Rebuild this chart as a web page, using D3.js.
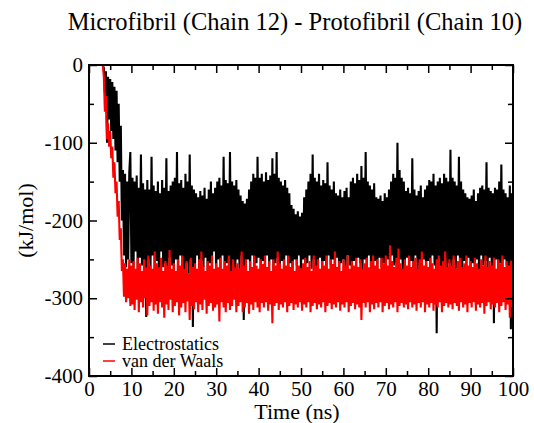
<!DOCTYPE html>
<html>
<head>
<meta charset="utf-8">
<script src="https://cdn.jsdelivr.net/npm/d3@7"></script>
<style>
  body { margin: 0; background: #fff; }
  svg text { font-family: "Liberation Serif", "Times New Roman", Times, "DejaVu Serif", serif; }
</style>
</head>
<body>
<div id="chart"></div>
<script>
// sampling step of both series (ns)
const dt = 0.25;

// Electrostatics (kJ/mol), one row = 5 ns
const elec = [
  0, 0, 0, 0, 0, 0, 0, 0, 0, 0, 0, 0, 0, 0, -4, -35, -8, -100, -15, -70,
  -18, -85, -22, -95, -28, -110, -33, -125, -50, -150, -78, -200, -135, -245, -140, -260, -150, -250, -138, -112,
  -255, -145, -262, -150, -240, -142, -270, -158, -248, -115, -258, -152, -265, -160, -324, -148, -250, -160, -262, -118,
  -245, -155, -268, -162, -252, -150, -275, -165, -240, -148, -260, -158, -255, -120, -270, -162, -248, -155, -258, -150,
  -265, -145, -250, -112, -272, -152, -245, -148, -262, -158, -300, -140, -255, -150, -268, -115, -250, -155, -337, -160,
  -258, -165, -245, -170, -270, -162, -252, -168, -260, -158, -248, -172, -275, -160, -255, -150, -262, -165, -240, -158,
  -268, -150, -250, -145, -262, -155, -245, -118, -270, -148, -255, -152, -248, -112, -265, -150, -258, -155, -272, -148,
  -250, -160, -262, -168, -245, -175, -328, -178, -258, -172, -250, -160, -268, -150, -245, -140, -260, -145, -255, -118,
  -248, -145, -270, -140, -252, -150, -262, -138, -245, -148, -258, -142, -250, -120, -265, -140, -255, -112, -248, -145,
  -260, -150, -252, -155, -270, -148, -245, -158, -262, -165, -255, -180, -268, -185, -250, -192, -258, -188, -245, -195,
  -262, -190, -250, -170, -268, -160, -255, -150, -245, -140, -262, -115, -250, -145, -270, -150, -255, -140, -248, -155,
  -265, -148, -252, -152, -270, -125, -245, -155, -258, -160, -250, -150, -262, -165, -248, -168, -272, -160, -255, -170,
  -250, -162, -265, -158, -245, -170, -258, -150, -270, -145, -252, -152, -262, -140, -248, -148, -255, -130, -268, -145,
  -250, -112, -262, -150, -245, -155, -258, -160, -270, -152, -252, -170, -265, -172, -248, -168, -260, -175, -255, -165,
  -262, -170, -250, -160, -268, -150, -245, -140, -258, -145, -255, -100, -262, -135, -250, -145, -270, -150, -255, -162,
  -248, -158, -265, -165, -252, -120, -260, -160, -245, -168, -270, -162, -255, -155, -262, -170, -250, -160, -268, -155,
  -252, -148, -262, -150, -245, -140, -258, -155, -345, -150, -250, -145, -265, -152, -255, -140, -248, -145, -262, -150,
  -255, -109, -268, -145, -250, -150, -262, -155, -245, -118, -258, -150, -270, -160, -252, -165, -260, -170, -248, -172,
  -265, -168, -255, -160, -262, -175, -250, -165, -270, -158, -245, -155, -258, -160, -252, -125, -265, -158, -248, -162,
  -260, -165, -332, -158, -250, -160, -268, -150, -255, -128, -262, -160, -250, -165, -258, -170, -270, -155, -340, -165,
  -250
];

// van der Waals (kJ/mol), one row = 5 ns
const vdw = [
  0, 0, 0, 0, 0, 0, 0, 0, 0, 0, 0, 0, 0, 0, -15, -60, -40, -95, -75, -105,
  -85, -120, -105, -145, -125, -165, -150, -195, -175, -225, -210, -265, -250, -298, -255, -305, -262, -300, -250, -310,
  -258, -308, -252, -315, -262, -302, -248, -318, -255, -305, -265, -312, -250, -300, -260, -322, -245, -310, -258, -305,
  -262, -316, -240, -308, -255, -320, -260, -305, -248, -312, -265, -325, -252, -308, -258, -315, -238, -302, -262, -318,
  -255, -310, -265, -305, -250, -322, -258, -312, -245, -306, -262, -318, -252, -304, -268, -328, -248, -310, -260, -314,
  -255, -305, -262, -318, -250, -308, -240, -315, -258, -302, -265, -320, -252, -310, -258, -306, -245, -316, -262, -312,
  -255, -308, -260, -330, -248, -305, -262, -312, -252, -318, -258, -306, -245, -315, -265, -310, -250, -302, -260, -318,
  -255, -310, -262, -305, -240, -318, -258, -312, -250, -306, -265, -320, -252, -308, -260, -315, -245, -305, -258, -312,
  -262, -318, -250, -306, -256, -312, -245, -305, -260, -316, -252, -308, -265, -332, -250, -310, -258, -306, -240, -315,
  -255, -308, -262, -312, -250, -305, -258, -318, -245, -310, -260, -306, -252, -315, -265, -308, -250, -312, -258, -305,
  -262, -316, -255, -308, -248, -312, -260, -305, -252, -318, -265, -310, -245, -306, -258, -314, -250, -308, -262, -312,
  -252, -305, -258, -318, -245, -310, -262, -306, -250, -314, -256, -308, -240, -312, -260, -305, -252, -316, -265, -308,
  -250, -312, -258, -305, -245, -318, -262, -310, -252, -306, -258, -314, -248, -308, -260, -312, -250, -328, -262, -306,
  -255, -312, -248, -305, -260, -318, -252, -308, -245, -314, -258, -306, -250, -312, -262, -305, -248, -318, -255, -310,
  -245, -306, -258, -314, -232, -308, -252, -312, -260, -305, -248, -318, -236, -310, -255, -306, -262, -312, -250, -308,
  -258, -314, -245, -305, -260, -312, -252, -308, -248, -316, -262, -306, -250, -312, -240, -305, -258, -318, -252, -308,
  -260, -312, -248, -306, -255, -316, -262, -308, -250, -312, -245, -305, -258, -318, -252, -310, -240, -306, -260, -312,
  -250, -308, -258, -314, -245, -306, -262, -310, -252, -316, -248, -305, -260, -312, -255, -308, -245, -318, -258, -306,
  -252, -312, -260, -305, -248, -316, -255, -308, -262, -312, -250, -306, -258, -320, -245, -310, -260, -305, -252, -314,
  -258, -308, -248, -312, -262, -306, -250, -318, -255, -310, -245, -305, -260, -315, -252, -308, -258, -325, -250, -312,
  -258
];

const xTicks = [0, 10, 20, 30, 40, 50, 60, 70, 80, 90, 100];
const yTicks = [0, -100, -200, -300, -400];
const seriesNames = ["Electrostatics", "van der Waals"];
const seriesColors = ["#000000", "#ff0000"];

const W = 534, H = 423;
const margin = { top: 65, right: 21, bottom: 47, left: 89 };
const width = W - margin.left - margin.right;
const height = H - margin.top - margin.bottom;
const serif = '"Liberation Serif", "Times New Roman", Times, "DejaVu Serif", serif';

const svg = d3.select("#chart").append("svg")
  .attr("width", W)
  .attr("height", H);

const g = svg.append("g")
  .attr("transform", `translate(${margin.left},${margin.top})`);

const x = d3.scaleLinear().domain([0, 100]).range([0, width]);
const y = d3.scaleLinear().domain([-400, 0]).range([height, 0]);

const line = d3.line()
  .x((d, i) => x(i * dt))
  .y(d => y(d));

// black first, red drawn on top
[elec, vdw].forEach((s, k) => {
  g.append("path")
    .datum(s)
    .attr("fill", "none")
    .attr("stroke", seriesColors[k])
    .attr("stroke-width", 2.1)
    .attr("stroke-linejoin", "bevel")
    .attr("d", line);
});

// ticks pointing inward on all four sides
const tickStyle = sel => {
  sel.select(".domain").remove();
  sel.selectAll("line").attr("stroke", "#000").attr("stroke-width", 1.5);
};
const labelStyle = sel => sel.selectAll("text")
  .attr("font-size", 21)
  .attr("font-family", serif)
  .attr("fill", "#000");

const xMinor = d3.range(5, 100, 10);
const yMinor = d3.range(-350, 0, 100);
const plain = d => String(d);

g.append("g").attr("transform", `translate(0,${height})`)
  .call(d3.axisBottom(x).tickValues(xTicks).tickSize(-8).tickPadding(5).tickFormat(plain))
  .call(tickStyle)
  .call(labelStyle);
g.append("g").attr("transform", `translate(0,${height})`)
  .call(d3.axisBottom(x).tickValues(xMinor).tickSize(-5).tickFormat(""))
  .call(tickStyle);
g.append("g")
  .call(d3.axisTop(x).tickValues(xTicks).tickSize(-8).tickFormat(""))
  .call(tickStyle);
g.append("g")
  .call(d3.axisTop(x).tickValues(xMinor).tickSize(-5).tickFormat(""))
  .call(tickStyle);

g.append("g")
  .call(d3.axisLeft(y).tickValues(yTicks).tickSize(-8).tickPadding(6).tickFormat(plain))
  .call(tickStyle)
  .call(labelStyle);
g.append("g")
  .call(d3.axisLeft(y).tickValues(yMinor).tickSize(-5).tickFormat(""))
  .call(tickStyle);
g.append("g").attr("transform", `translate(${width},0)`)
  .call(d3.axisRight(y).tickValues(yTicks).tickSize(-8).tickFormat(""))
  .call(tickStyle);
g.append("g").attr("transform", `translate(${width},0)`)
  .call(d3.axisRight(y).tickValues(yMinor).tickSize(-5).tickFormat(""))
  .call(tickStyle);

// frame
g.append("rect")
  .attr("width", width)
  .attr("height", height)
  .attr("fill", "none")
  .attr("stroke", "#000")
  .attr("stroke-width", 2);

// legend
const legend = g.append("g").attr("transform", "translate(14,279)");
seriesNames.forEach((name, k) => {
  legend.append("line")
    .attr("x1", 0).attr("x2", 12)
    .attr("y1", k * 17).attr("y2", k * 17)
    .attr("stroke", seriesColors[k])
    .attr("stroke-width", 1.5);
  legend.append("text")
    .attr("x", 19)
    .attr("y", k * 17 + 6)
    .attr("font-size", 18)
    .attr("font-family", serif)
    .attr("fill", "#000")
    .text(name);
});

// title and axis labels
svg.append("text")
  .attr("x", 295)
  .attr("y", 30)
  .attr("text-anchor", "middle")
  .attr("font-size", 24.5)
  .attr("font-family", serif)
  .text("Microfibril (Chain 12) - Protofibril (Chain 10)");

svg.append("text")
  .attr("x", margin.left + width / 2 - 4)
  .attr("y", 419)
  .attr("text-anchor", "middle")
  .attr("font-size", 22)
  .attr("font-family", serif)
  .text("Time (ns)");

svg.append("text")
  .attr("transform", `translate(33,${margin.top + height / 2}) rotate(-90)`)
  .attr("text-anchor", "middle")
  .attr("font-size", 22)
  .attr("font-family", serif)
  .text("(kJ/mol)");
</script>
</body>
</html>
